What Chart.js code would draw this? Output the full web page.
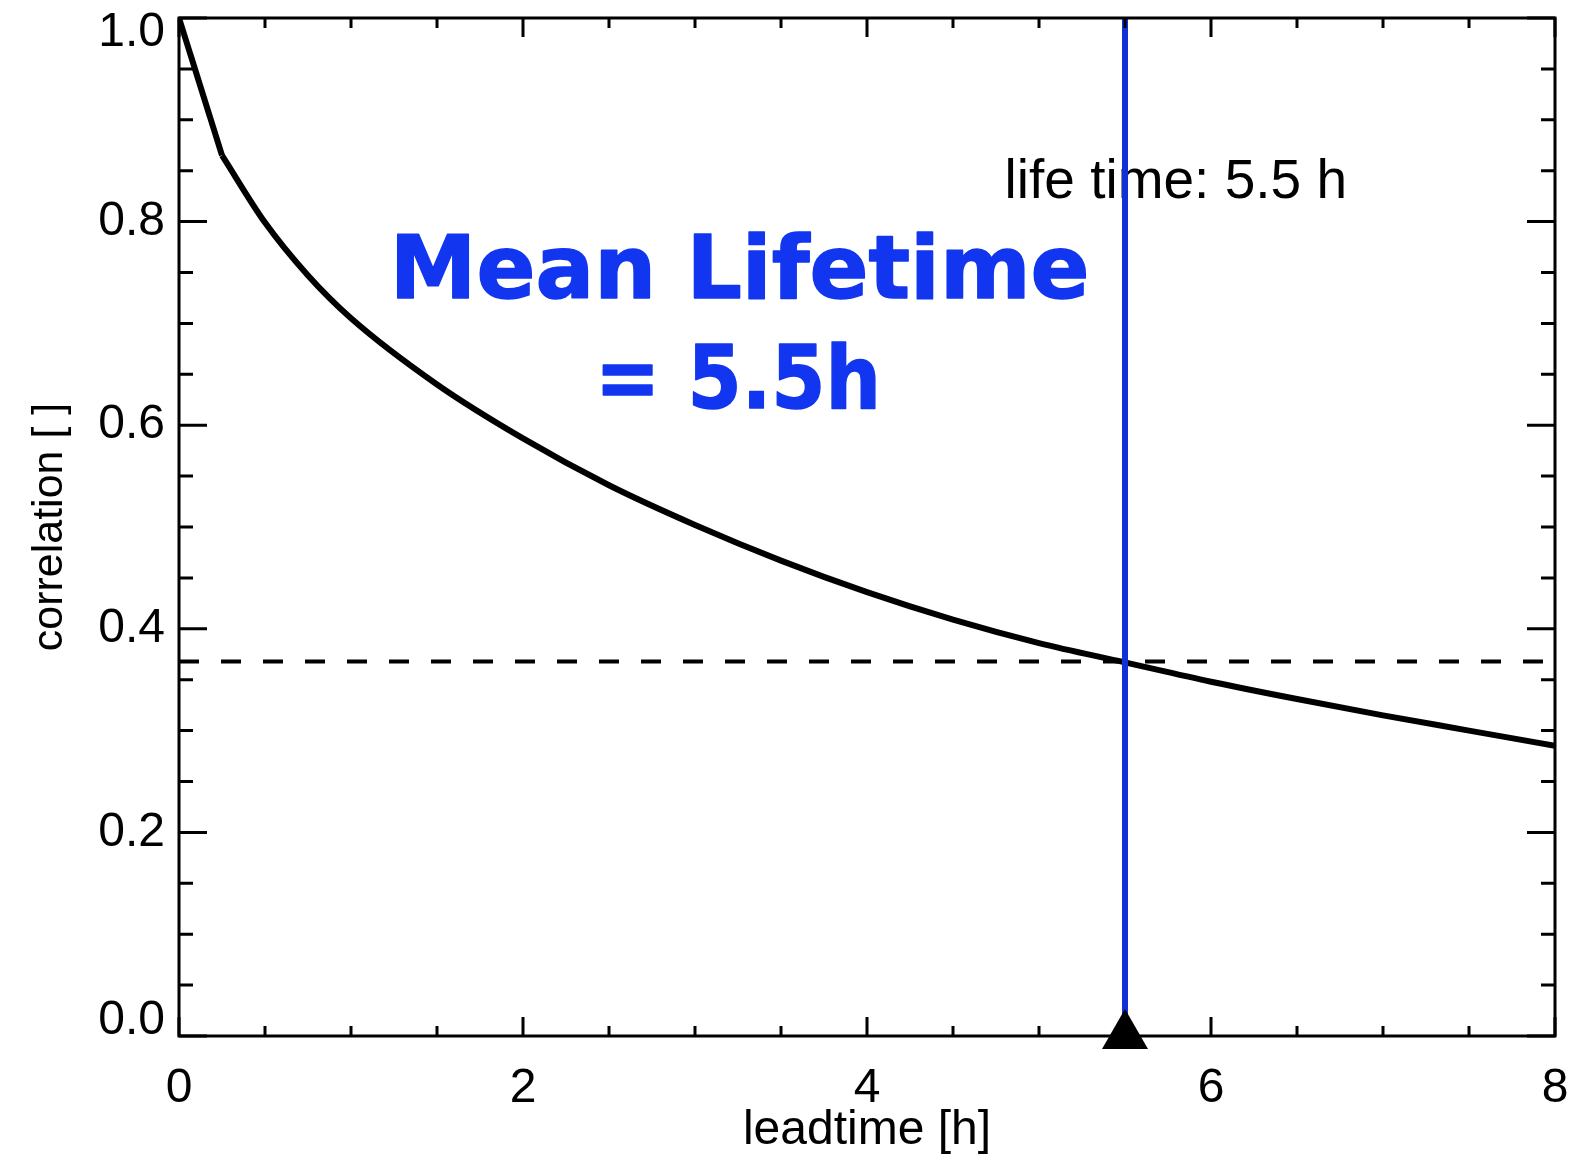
<!DOCTYPE html>
<html>
<head>
<meta charset="utf-8">
<script src="https://cdn.jsdelivr.net/npm/chart.js@4.4.1/dist/chart.umd.min.js"></script>
<style>
  html, body { margin: 0; padding: 0; background: #fff; }
  #wrap { width: 1569px; height: 1166px; }
</style>
</head>
<body>
<div id="wrap"><canvas id="lifeChart" width="1569" height="1166"></canvas></div>
<script>
// leadtime [h] and autocorrelation
const leadtime = [0, 0.25, 0.5, 0.75, 1.0, 1.5, 2.0, 2.5, 3.0, 3.5, 4.0, 4.5, 5.0, 5.5, 6.0, 6.5, 7.0, 7.5, 8.0];
const correlation = [1.0, 0.865, 0.799, 0.747, 0.705, 0.640, 0.587, 0.541, 0.502, 0.467, 0.436, 0.409, 0.386, 0.367, 0.348, 0.331, 0.315, 0.300, 0.285];
const threshold = 0.368;   // 1/e
const lifetime = 5.5;
const xTicks = [0, 2, 4, 6, 8];
const yTicks = [0.0, 0.2, 0.4, 0.6, 0.8, 1.0];

const BLUE_TEXT = '#1236f0';
const BLUE_LINE = '#1230d6';
const FONT = '"Liberation Sans", Arial, Helvetica, sans-serif';
const BOLD = 'bold %spx "DejaVu Sans", Verdana, sans-serif';

const points = leadtime.map((t, i) => ({ x: t, y: correlation[i] }));

// triangle marker as an image so it does not enlarge the layout padding
const marker = document.createElement('canvas');
marker.width = 48;
marker.height = 54;
(function () {
    const m = marker.getContext('2d');
    m.fillStyle = '#000';
    m.beginPath();
    m.moveTo(24, 0);
    m.lineTo(47, 40);
    m.lineTo(1, 40);
    m.closePath();
    m.fill();
})();

// keep the end labels of the y axis inside the frame, like the original
const yLabelPlugin = {
    id: 'yLabelShift',
    beforeDraw(chart) {
        const y = chart.scales.y;
        const items = y.getLabelItems(chart.chartArea);
        items.forEach(item => {
            if (item.label === '1.0') item.options.translation[1] += 15;
            if (item.label === '0.0') item.options.translation[1] -= 15;
        });
    }
};

// inward ticks on all four sides + frame, IDL style
const framePlugin = {
    id: 'frame',
    afterDatasetsDraw(chart) {
        const { ctx, chartArea: a, scales: { x, y } } = chart;
        ctx.save();
        ctx.strokeStyle = '#000';
        ctx.lineWidth = 3;
        ctx.beginPath();
        for (let i = 0; i <= 16; i++) {
            const px = x.getPixelForValue(i * 0.5);
            const len = i % 4 === 0 ? 19 : 10;
            ctx.moveTo(px, a.bottom); ctx.lineTo(px, a.bottom - len);
            ctx.moveTo(px, a.top); ctx.lineTo(px, a.top + len);
        }
        for (let i = 0; i <= 20; i++) {
            const py = y.getPixelForValue(i * 0.05);
            const len = i % 4 === 0 ? 28 : 14;
            ctx.moveTo(a.left, py); ctx.lineTo(a.left + len, py);
            ctx.moveTo(a.right, py); ctx.lineTo(a.right - len, py);
        }
        ctx.stroke();
        ctx.strokeRect(a.left, a.top, a.right - a.left, a.bottom - a.top);
        ctx.restore();
    }
};

// text labels placed in data coordinates
const textPlugin = {
    id: 'notes',
    beforeDatasetsDraw(chart) {
        const { ctx, scales: { x, y } } = chart;
        ctx.save();
        ctx.fillStyle = '#000';
        ctx.font = '55px ' + FONT;
        ctx.textAlign = 'left';
        ctx.textBaseline = 'alphabetic';
        ctx.fillText('life time: 5.5 h', x.getPixelForValue(4.8), y.getPixelForValue(0.823));
        ctx.restore();
    },
    afterDatasetsDraw(chart) {
        const { ctx, scales: { x, y } } = chart;
        ctx.save();
        ctx.fillStyle = BLUE_TEXT;
        ctx.strokeStyle = BLUE_TEXT;
        ctx.lineWidth = 1.5;
        ctx.lineJoin = 'round';
        ctx.textAlign = 'center';
        ctx.textBaseline = 'alphabetic';
        ctx.font = BOLD.replace('%s', 100);
        const w = ctx.measureText('Mean Lifetime').width;
        const size = Math.round(100 * 698 / w);
        ctx.font = BOLD.replace('%s', size);
        const lines = [
            ['Mean Lifetime', 3.26, 0.725, undefined],
            ['= 5.5h', 3.25, 0.617, 286]
        ];
        lines.forEach(([txt, tx, ty, maxW]) => {
            const px = x.getPixelForValue(tx), py = y.getPixelForValue(ty);
            ctx.fillText(txt, px, py, maxW);
            ctx.strokeText(txt, px, py, maxW);
        });
        ctx.restore();
    }
};

const ctx = document.getElementById('lifeChart');

new Chart(ctx, {
    type: 'line',
    data: {
        datasets: [
            {
                data: [{ x: lifetime, y: 0 }],
                showLine: false,
                pointStyle: marker,
                pointRadius: 1,
                clip: false
            },
            {
                data: [{ x: lifetime, y: 0 }, { x: lifetime, y: 1 }],
                borderColor: BLUE_LINE,
                borderWidth: 6,
                pointRadius: 0
            },
            {
                // first 15-minute step is a straight segment
                data: points.slice(0, 2),
                borderColor: '#000',
                borderWidth: 6,
                pointRadius: 0
            },
            {
                data: points.slice(1),
                borderColor: '#000',
                borderWidth: 6,
                pointRadius: 0,
                cubicInterpolationMode: 'monotone'
            },
            {
                data: [{ x: 0, y: threshold }, { x: 8, y: threshold }],
                borderColor: '#000',
                borderWidth: 4,
                borderDash: [20, 22],
                pointRadius: 0
            }
        ]
    },
    options: {
        responsive: false,
        animation: false,
        devicePixelRatio: 1,
        layout: { padding: { top: 18, right: 14, left: 0, bottom: 0 } },
        plugins: {
            legend: { display: false },
            tooltip: { enabled: false },
            title: { display: false }
        },
        scales: {
            x: {
                type: 'linear',
                min: 0,
                max: 8,
                afterBuildTicks: s => { s.ticks = xTicks.map(v => ({ value: v })); },
                afterFit: s => { s.height = 130; s.paddingLeft = 0; s.paddingRight = 0; },
                grid: { display: false, drawTicks: false },
                border: { display: false },
                ticks: {
                    color: '#000',
                    font: { family: FONT, size: 48 },
                    padding: 24,
                    maxRotation: 0,
                    autoSkip: false
                },
                title: {
                    display: true,
                    text: 'leadtime [h]',
                    color: '#000',
                    font: { family: FONT, size: 48 },
                    padding: { top: 0, bottom: 6 }
                }
            },
            y: {
                type: 'linear',
                min: 0,
                max: 1,
                afterBuildTicks: s => { s.ticks = yTicks.map(v => ({ value: v })); },
                afterFit: s => { s.width = 179; s.paddingTop = 0; s.paddingBottom = 0; },
                grid: { display: false, drawTicks: false },
                border: { display: false },
                ticks: {
                    color: '#000',
                    font: { family: FONT, size: 48 },
                    padding: 14,
                    autoSkip: false,
                    callback: v => Number(v).toFixed(1)
                },
                title: {
                    display: true,
                    text: 'correlation [ ]',
                    color: '#000',
                    font: { family: FONT, size: 43 },
                    padding: { top: 24, bottom: 0 }
                }
            }
        }
    },
    plugins: [yLabelPlugin, textPlugin, framePlugin]
});
</script>
</body>
</html>
